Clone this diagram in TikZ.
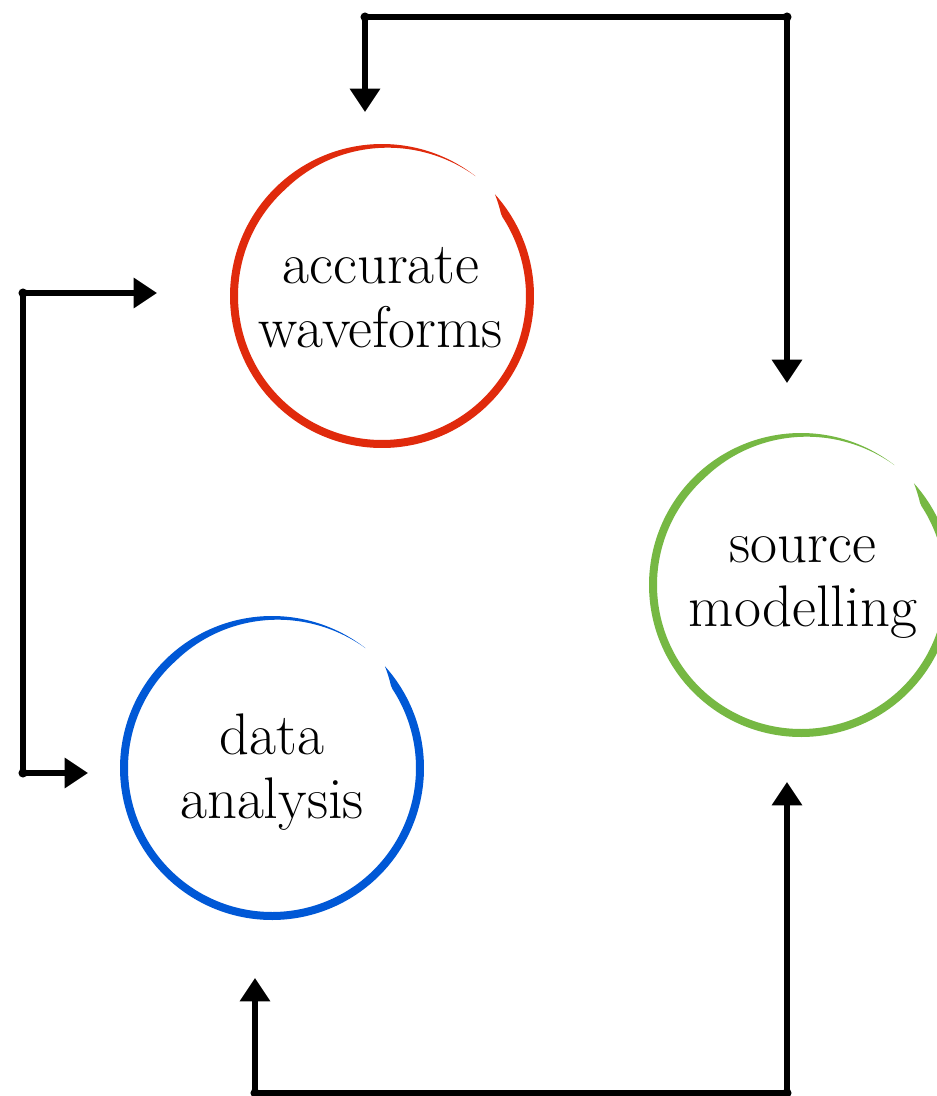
\documentclass[tikz,border=0pt]{standalone}
\usepackage{fontspec}
\usetikzlibrary{arrows.meta}
\definecolor{ringred}{HTML}{E02A0C}
\definecolor{ringblue}{HTML}{0058D6}
\definecolor{ringgreen}{HTML}{76B843}
\newcommand\brushring[4]{% cx, cy, r, colour
  \fill[#4] plot[domain=42:-308,samples=240] ({#1+(#3+4)*cos(\x)},{#2-(#3+4)*sin(\x)})
    -- plot[domain=-308:42,samples=240] ({#1+(#3+4-8*min(1,(\x+308)/80,(42-\x)/8))*cos(\x)},{#2-(#3+4-8*min(1,(\x+308)/80,(42-\x)/8))*sin(\x)}) -- cycle;}
\begin{document}
\begin{tikzpicture}[x=0.75pt,y=-0.75pt,
  conn/.style={line width=4.1pt,line join=round,
    {Triangle[width=22pt,length=17.5pt]}-{Triangle[width=22pt,length=17.5pt]}},
  lab/.style={align=center,font=\fontsize{44}{48}\selectfont,inner sep=0pt}]
\useasboundingbox (0,0) rectangle (937,1096);
\clip (0,0) rectangle (937,1096);
\fill[white] (0,0) rectangle (937,1096);
% rings
\brushring{382}{296}{148}{ringred}
\brushring{801}{585}{148}{ringgreen}
\brushring{272}{768}{148}{ringblue}
% labels
\node[lab] (wf) at (381,298) {accurate\\waveforms};
\node[lab] (sm) at (803,588) {source\\modelling};
\node[lab] (da) at (272,772) {data\\analysis};
% connector end points and corners
\coordinate (wfTop) at (365,112);
\coordinate (smTop) at (787,383);
\coordinate (c1) at (365,17);
\coordinate (c2) at (787,17);
\coordinate (wfLeft) at (157,293);
\coordinate (daLeft) at (88,773);
\coordinate (c3) at (23,293);
\coordinate (c4) at (23,773);
\coordinate (daBot) at (255,978);
\coordinate (smBot) at (787,782);
\coordinate (c5) at (255,1093);
\coordinate (c6) at (787,1093);
\draw[conn] (wfTop) -- (c1) -- (c2) -- (smTop);
\draw[conn] (wfLeft) -- (c3) -- (c4) -- (daLeft);
\draw[conn] (daBot) -- (c5) -- (c6) -- (smBot);
\foreach \c in {c1,c2,c3,c4,c5,c6} \fill (\c) circle (3.4pt);
\end{tikzpicture}
\end{document}
